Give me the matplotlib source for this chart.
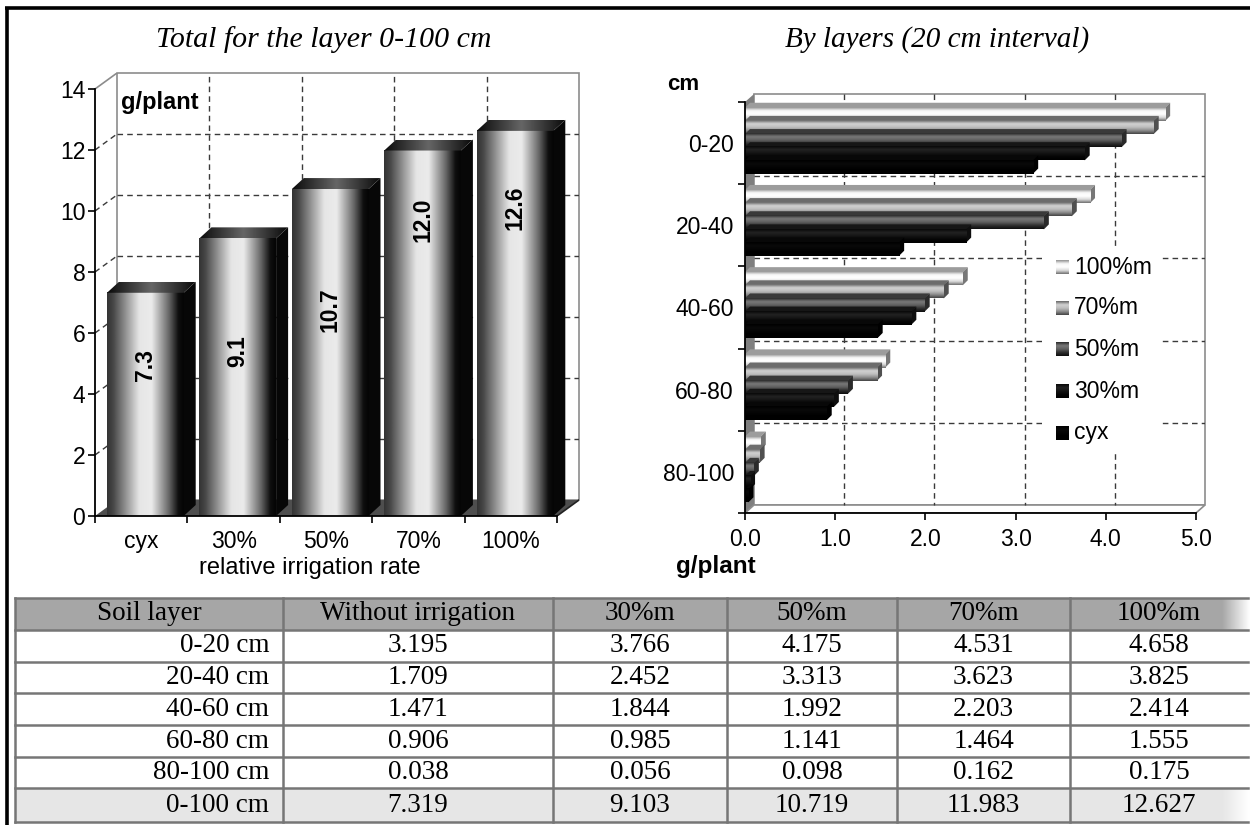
import numpy as np
import matplotlib
matplotlib.use("Agg")
import matplotlib.pyplot as plt
from matplotlib.patches import Polygon, Rectangle

plt.rcParams["font.family"] = ["Liberation Sans", "DejaVu Sans"]

# ---------------- data ----------------
rates = ["cyx", "30%", "50%", "70%", "100%"]
totals = [7.319, 9.103, 10.719, 11.983, 12.627]

layers = ["0-20", "20-40", "40-60", "60-80", "80-100"]
series_names = ["100%m", "70%m", "50%m", "30%m", "cyx"]
vals_100 = [4.658, 3.825, 2.414, 1.555, 0.175]
vals_70 = [4.531, 3.623, 2.203, 1.464, 0.162]
vals_50 = [4.175, 3.313, 1.992, 1.141, 0.098]
vals_30 = [3.766, 2.452, 1.844, 0.985, 0.056]
vals_cyx = [3.195, 1.709, 1.471, 0.906, 0.038]

table_header = ["Soil layer", "Without irrigation", "30%m", "50%m", "70%m", "100%m"]
table_layers = ["0-20 cm", "20-40 cm", "40-60 cm", "60-80 cm", "80-100 cm", "0-100 cm"]

# ---------------- layout helpers ----------------
W, H = 1250, 825
fig = plt.figure(figsize=(W / 100, H / 100), dpi=100)


def axes_px(x0, y0, x1, y1):
    return fig.add_axes([x0 / W, 1 - y1 / H, (x1 - x0) / W, (y1 - y0) / H])


SANS = ["Liberation Sans", "DejaVu Sans"]
SERIF = ["Liberation Serif", "DejaVu Serif"]
GRID = dict(color="#3a3a3a", lw=1.0, ls=(0, (4, 3)))
WALL_EDGE = "#8c8c8c"


def profile(pos, val, n=128):
    return np.interp(np.linspace(0, 1, n), pos, val)


# background canvas: outer frame and data table
bg = axes_px(0, 0, W, H)
bg.set_xlim(0, W)
bg.set_ylim(H, 0)
bg.axis("off")
bg.plot([6.5, 6.5], [7, H], color="black", lw=2.6, solid_capstyle="butt")
bg.plot([5, W], [7.5, 7.5], color="black", lw=2.6, solid_capstyle="butt")

# ---------------- left chart: totals, cylinder columns ----------------
cat_px = (557 - 95) / 5
val_px = (516 - 89) / 14
ax1 = axes_px(95, 73, 579, 516)
ax1.set_xlim(0, (579 - 95) / cat_px)
ax1.set_ylim(0, (516 - 73) / val_px)
ax1.patch.set_visible(False)
wdx, wdy = 22 / cat_px, 16 / val_px

ax1.add_patch(Rectangle((wdx, wdy), 5, 14, fc="white", ec=WALL_EDGE, lw=1.2, zorder=0.5, clip_on=False))
for y in range(2, 14, 2):
    ax1.plot([wdx, 5 + wdx], [y + wdy] * 2, zorder=1, **GRID)
for c in range(1, 5):
    ax1.plot([c + wdx] * 2, [wdy, 14 + wdy], zorder=1, **GRID)
for y in range(2, 14, 2):
    ax1.plot([0, wdx], [y, y + wdy], zorder=1, **GRID)
ax1.plot([0, wdx], [14, 14 + wdy], color=WALL_EDGE, lw=1.2, zorder=1)
ax1.add_patch(Polygon([(0, 0), (5, 0), (5 + wdx, wdy), (wdx, wdy)], closed=True,
                      fc="#4e4e4e", ec="none", zorder=1.5))
ax1.plot([5, 5 + wdx], [0, wdy], color="#222222", lw=1.2, zorder=1.6)

col_front = profile([0, 0.08, 0.42, 0.58, 0.8, 0.93, 1.0],
                    [0.2, 0.28, 0.9, 0.92, 0.42, 0.06, 0.02])[None, :]
col_top = profile([0, 0.5, 1.0], [0.04, 0.4, 0.04])[None, :]
bdx, bdy = 12 / cat_px, 11 / val_px
label_y = [4.95, 5.4, 6.75, 9.7, 10.1]

for i, v in enumerate(totals):
    x0, x1 = i + 0.13, i + 0.96
    ax1.add_patch(Polygon([(x1, 0), (x1 + bdx, bdy), (x1 + bdx, v + bdy), (x1, v)], closed=True,
                          fc="#070707", ec="none", zorder=3))
    ax1.imshow(col_front, extent=(x0, x1, 0, v), cmap="gray", vmin=0, vmax=1,
               aspect="auto", interpolation="bicubic", zorder=4)
    top = Polygon([(x0, v), (x1, v), (x1 + bdx, v + bdy), (x0 + bdx, v + bdy)], closed=True,
                  transform=ax1.transData)
    im = ax1.imshow(col_top, extent=(x0, x1 + bdx, v, v + bdy), cmap="gray", vmin=0, vmax=1,
                    aspect="auto", interpolation="bicubic", zorder=4)
    im.set_clip_path(top)
    ax1.text(i + 0.545, label_y[i], f"{v:.1f}", rotation=90, ha="center", va="center",
             fontsize=16.5, fontweight="bold", zorder=6)

ax1.set_xlim(0, (579 - 95) / cat_px)
ax1.set_ylim(0, (516 - 73) / val_px)
for s in ("top", "right"):
    ax1.spines[s].set_visible(False)
ax1.spines["left"].set_bounds(0, 14)
ax1.spines["bottom"].set_bounds(0, 5)
for s in ("left", "bottom"):
    ax1.spines[s].set_linewidth(1.3)
    ax1.spines[s].set_zorder(7)
ax1.set_yticks(range(0, 15, 2))
ax1.tick_params(axis="y", length=5, width=1.2, pad=2, labelsize=16.5)
ax1.set_xticks(range(6))
ax1.set_xticklabels([""] * 6)
ax1.set_xticks(np.arange(5) + 0.5, minor=True)
ax1.set_xticklabels(rates, minor=True)
ax1.tick_params(axis="x", which="major", length=5, width=1.2)
ax1.tick_params(axis="x", which="minor", length=0, pad=10, labelsize=16.5)
ax1.text(0.28, 14.0 - 0.45, "g/plant", fontsize=17, fontweight="bold", ha="left", va="center", zorder=6)

fig.text(310 / W, 1 - 568 / H, "relative irrigation rate", ha="center", va="center", fontsize=17)
fig.text(324 / W, 1 - 40 / H, "Total for the layer 0-100 cm", ha="center", va="center",
         fontsize=21.5, family=SERIF, style="italic")

# ---------------- right chart: layers, horizontal cylinders ----------------
vpx = (1196 - 745) / 5
cpx = (513 - 102) / 5
ax2 = axes_px(745, 94, 1205, 513)
ax2.patch.set_visible(False)
rdx, rdy = 9 / vpx, -8 / cpx

ax2.add_patch(Rectangle((rdx, rdy), 5, 5, fc="white", ec=WALL_EDGE, lw=1.2, zorder=0.5, clip_on=False))
ax2.add_patch(Polygon([(0, 0), (rdx, rdy), (rdx, 5 + rdy), (0, 5)], closed=True,
                      fc="#7f7f7f", ec="none", zorder=0.8))
ax2.add_patch(Polygon([(0, 5), (5, 5), (5 + rdx, 5 + rdy), (rdx, 5 + rdy)], closed=True,
                      fc="white", ec=WALL_EDGE, lw=1.2, zorder=0.8))
for x in range(1, 5):
    ax2.plot([x + rdx] * 2, [rdy, 5 + rdy], zorder=1, **GRID)
for y in range(1, 5):
    ax2.plot([rdx, 5 + rdx], [y + rdy] * 2, zorder=1, **GRID)

series_vals = [vals_100, vals_70, vals_50, vals_30, vals_cyx]
bar_prof = [
    ([0, 0.25, 0.5, 0.75, 1], [0.55, 0.97, 1.0, 0.85, 0.42]),
    ([0, 0.25, 0.5, 0.75, 1], [0.38, 0.82, 0.75, 0.55, 0.25]),
    ([0, 0.25, 0.5, 0.75, 1], [0.15, 0.48, 0.38, 0.18, 0.05]),
    ([0, 0.25, 0.5, 0.75, 1], [0.03, 0.14, 0.08, 0.02, 0.0]),
    ([0, 0.25, 0.5, 0.75, 1], [0.0, 0.04, 0.02, 0.0, 0.0]),
]
bar_grads = [profile(p, v)[:, None] for p, v in bar_prof]
top_cols = ["#9c9c9c", "#6c6c6c", "#3a3a3a", "#161616", "#080808"]
cap_cols = ["#777777", "#505050", "#2a2a2a", "#0e0e0e", "#000000"]
hb = 0.16
hdx, hdy = 5 / vpx, -5 / cpx

for k in range(len(layers)):
    for j, vals in enumerate(series_vals):
        v = vals[k]
        t = k + 0.07 + 0.16 * j
        z = 3 + j * 0.5
        ax2.add_patch(Polygon([(0, t), (v, t), (v + hdx, t + hdy), (hdx, t + hdy)], closed=True,
                              fc=top_cols[j], ec="none", zorder=z))
        ax2.add_patch(Polygon([(v, t), (v + hdx, t + hdy), (v + hdx, t + hb + hdy), (v, t + hb)],
                              closed=True, fc=cap_cols[j], ec="none", zorder=z))
        ax2.imshow(bar_grads[j], extent=(0, v, t + hb, t), cmap="gray", vmin=0, vmax=1,
                   aspect="auto", interpolation="bicubic", zorder=z + 0.2)

ax2.set_xlim(0, (1205 - 745) / vpx)
ax2.set_ylim(5, -8 / cpx)
for s in ("top", "right"):
    ax2.spines[s].set_visible(False)
ax2.spines["left"].set_bounds(0, 5)
ax2.spines["bottom"].set_bounds(0, 5)
ax2.spines["bottom"].set_position(("data", 5))
for s in ("left", "bottom"):
    ax2.spines[s].set_linewidth(1.3)
    ax2.spines[s].set_zorder(7)
ax2.set_xticks(range(6))
ax2.set_xticklabels([f"{x:.1f}" for x in range(6)])
ax2.tick_params(axis="x", length=5, width=1.2, pad=6, labelsize=16.5)
ax2.set_yticks(range(6))
ax2.set_yticklabels([""] * 6)
ax2.set_yticks(np.arange(5) + 0.5, minor=True)
ax2.set_yticklabels(layers, minor=True)
ax2.tick_params(axis="y", which="major", length=5, width=1.2)
ax2.tick_params(axis="y", which="minor", length=0, pad=8, labelsize=16.5)

fig.text(667 / W, 1 - 85 / H, "cm", ha="left", va="center", fontsize=16, fontweight="bold")
fig.text(676 / W, 1 - 566 / H, "g/plant", ha="left", va="center", fontsize=17.5, fontweight="bold")
fig.text(937 / W, 1 - 40 / H, "By layers (20 cm interval)", ha="center", va="center",
         fontsize=21, family=SERIF, style="italic")

# legend drawn on a white panel above the gridlines
lax = axes_px(1045, 250, 1160, 452)
lax.set_zorder(5)
lax.set_xlim(1045, 1160)
lax.set_ylim(452, 250)
lax.set_xticks([])
lax.set_yticks([])
for s in lax.spines.values():
    s.set_visible(False)
legend_y = [267, 308, 349, 391, 433]
for j, name in enumerate(series_names):
    y = legend_y[j]
    lax.imshow(bar_grads[j], extent=(1056, 1069, y + 7, y - 7), cmap="gray", vmin=0, vmax=1,
               aspect="auto", interpolation="bicubic")
    lax.text(1074, y, name, ha="left", va="center", fontsize=16.5)
lax.set_xlim(1045, 1160)
lax.set_ylim(452, 250)

# ---------------- data table ----------------
rows_y = [598, 630, 662, 693, 725, 757, 788, 822]
cols_x = [15, 283, 553, 727, 897, 1070, 1248]
x_left, x_right = cols_x[0], cols_x[-1]
bg.add_patch(Rectangle((x_left, rows_y[0]), x_right - x_left, rows_y[1] - rows_y[0], fc="#a6a6a6", ec="none"))
bg.add_patch(Rectangle((x_left, rows_y[-2]), x_right - x_left, rows_y[-1] - rows_y[-2], fc="#e6e6e6", ec="none"))
fade = np.linspace(0, 1, 64)[None, :]
for (ya, yb), base in (((rows_y[0], rows_y[1]), 0.65), ((rows_y[-2], rows_y[-1]), 0.90)):
    g = base + (1 - base) * fade
    bg.imshow(g, extent=(1222, 1250, yb, ya), cmap="gray", vmin=0, vmax=1, aspect="auto",
              interpolation="bicubic", zorder=1)
bg.set_xlim(0, W)
bg.set_ylim(H, 0)
for y in rows_y:
    bg.plot([x_left, x_right], [y, y], color="#767676", lw=1.8, zorder=2)
for x in cols_x[:-1]:
    bg.plot([x, x], [rows_y[0], rows_y[-1]], color="#767676", lw=1.8, zorder=2)

TFS = 19.5
centers_x = [(a + b) / 2 for a, b in zip(cols_x[:-1], cols_x[1:])]
y_mid = [(a + b) / 2 for a, b in zip(rows_y[:-1], rows_y[1:])]
for c, txt in enumerate(table_header):
    bg.text(centers_x[c], y_mid[0], txt, ha="center", va="center", fontsize=TFS, family=SERIF, zorder=3)
table_cols = [vals_cyx, vals_30, vals_50, vals_70, vals_100]
for r, name in enumerate(table_layers):
    yy = y_mid[r + 1]
    bg.text(cols_x[1] - 14, yy, name, ha="right", va="center", fontsize=TFS, family=SERIF, zorder=3)
    for c, col in enumerate(table_cols):
        val = col[r] if r < len(layers) else totals[c]
        bg.text(centers_x[c + 1], yy, f"{val:.3f}", ha="center", va="center", fontsize=TFS,
                family=SERIF, zorder=3)

fig.savefig("out.png", dpi=100)
